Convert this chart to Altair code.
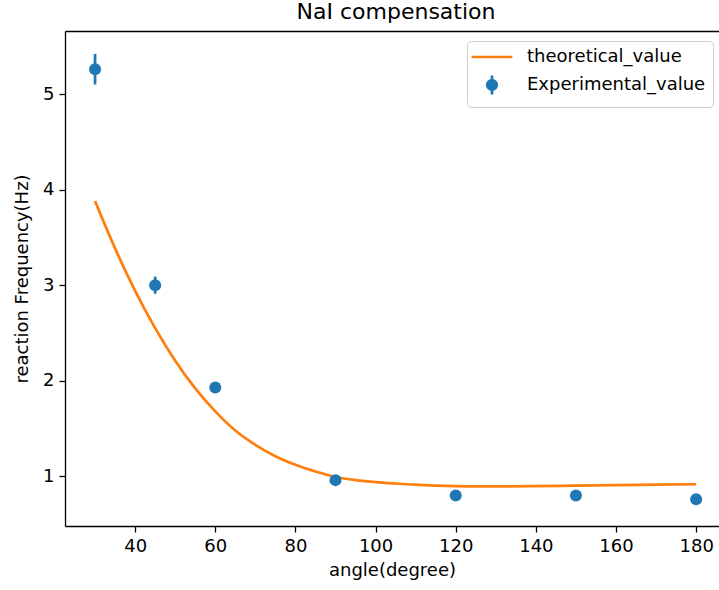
import altair as alt
import pandas as pd

# ---- data ----
angles_exp = [30, 45, 60, 90, 120, 150, 180]
freq_exp = [5.26, 3.00, 1.93, 0.96, 0.80, 0.80, 0.76]
err_exp = [0.16, 0.09, 0.04, 0.04, 0.04, 0.04, 0.04]

angles_th = [30, 35, 40, 45, 50, 55, 60, 65, 70, 75, 80, 85, 90, 95, 100,
             105, 110, 115, 120, 125, 130, 140, 150, 160, 170, 180]
freq_th = [3.88, 3.385, 2.94, 2.55, 2.21, 1.92, 1.68, 1.48, 1.33, 1.21, 1.12,
           1.05, 0.993, 0.96, 0.94, 0.925, 0.912, 0.903, 0.897, 0.894, 0.894,
           0.897, 0.902, 0.907, 0.912, 0.917]

x_ticks = [40, 60, 80, 100, 120, 140, 160, 180]
y_ticks = [1, 2, 3, 4, 5]

series_names = ["theoretical_value", "Experimental_value"]
series_colors = ["#ff7f0e", "#1f77b4"]

theory = pd.DataFrame({"angle": angles_th, "freq": freq_th,
                       "series": series_names[0]})
exp = pd.DataFrame({"angle": angles_exp, "freq": freq_exp, "err": err_exp,
                    "series": series_names[1]})

FONT = "DejaVu Sans"
W, H = 654, 495

x_scale = alt.Scale(domain=[22.5, 185.7], nice=False, zero=False)
y_scale = alt.Scale(domain=[0.48, 5.66], nice=False, zero=False)
color_scale = alt.Scale(domain=series_names, range=series_colors)
shape_scale = alt.Scale(
    domain=series_names,
    range=["M-3.4,0L3.4,0",
           "M0,-1.6L0,1.6M0.8,0A0.8,0.8,0,1,1,-0.8,0A0.8,0.8,0,1,1,0.8,0Z"],
)

legend = alt.Legend(
    title=None, orient="none", legendX=402, legendY=10,
    fillColor="white", strokeColor="#cccccc", cornerRadius=4, padding=7,
    labelFont=FONT, labelFontSize=18, labelColor="black", labelLimit=400,
    symbolSize=144, symbolStrokeWidth=2.7, symbolOpacity=1,
    rowPadding=3, labelOffset=26, symbolOffset=9,
)

x_axis = alt.Axis(
    values=x_ticks, title="angle(degree)", grid=False,
    labelFont=FONT, labelFontSize=18, labelColor="black", labelPadding=5,
    tickSize=6, tickWidth=1.3, tickColor="black",
    domainColor="black", domainWidth=1.3,
    titleFont=FONT, titleFontSize=18, titleFontWeight="normal",
    titleColor="black", titlePadding=6,
)
x_top = alt.Axis(orient="top", labels=False, ticks=False, title=None,
                 grid=False, domainColor="black", domainWidth=1.3)
y_axis = alt.Axis(
    values=y_ticks, title="reaction Frequency(Hz)", grid=False,
    labelFont=FONT, labelFontSize=18, labelColor="black", labelPadding=5,
    tickSize=6, tickWidth=1.3, tickColor="black",
    domainColor="black", domainWidth=1.3,
    titleFont=FONT, titleFontSize=18, titleFontWeight="normal",
    titleColor="black", titlePadding=11,
)

color_enc = alt.Color("series:N", scale=color_scale, legend=legend)
y_enc = alt.Y("freq:Q", scale=y_scale, axis=y_axis)

legend_layer = alt.Chart(exp).mark_point(filled=True, opacity=0).encode(
    x=alt.X("angle:Q", scale=x_scale, axis=None),
    y=y_enc,
    color=color_enc,
    shape=alt.Shape("series:N", scale=shape_scale, legend=legend),
)

line = alt.Chart(theory).mark_line(strokeWidth=2.7, interpolate="monotone").encode(
    x=alt.X("angle:Q", scale=x_scale, axis=x_axis),
    y=y_enc,
    color=color_enc,
)

errbars = alt.Chart(exp).transform_calculate(
    lo="datum.freq - datum.err", hi="datum.freq + datum.err"
).mark_rule(strokeWidth=2.7, color="#1f77b4").encode(
    x=alt.X("angle:Q", scale=x_scale, axis=None),
    y=alt.Y("lo:Q", scale=y_scale, axis=y_axis),
    y2="hi:Q",
)

points = alt.Chart(exp).mark_circle(size=144, opacity=1).encode(
    x=alt.X("angle:Q", scale=x_scale, axis=x_top),
    y=y_enc,
    color=color_enc,
)

chart = alt.layer(legend_layer, line, errbars, points).resolve_axis(
    x="independent"
).properties(
    width=W, height=H,
    title=alt.TitleParams("NaI compensation", font=FONT, fontSize=22,
                          fontWeight="normal", color="black", anchor="middle",
                          baseline="alphabetic", offset=10, dx=4, dy=20),
    autosize=alt.AutoSizeParams(type="none"),
    padding={"left": 65, "top": 31, "right": 0, "bottom": 64},
).configure_view(stroke=None).configure(background="white")

chart.save("out.html", embed_options={"renderer": "svg", "actions": False})
